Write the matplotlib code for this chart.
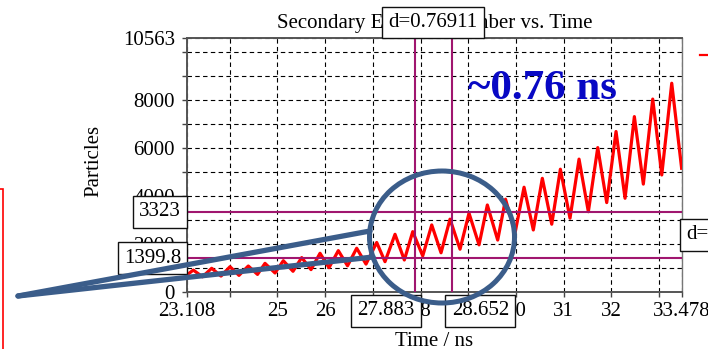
import matplotlib
matplotlib.use("Agg")
import matplotlib.pyplot as plt
import matplotlib.transforms as mtransforms
from matplotlib.lines import Line2D
from matplotlib.patches import Ellipse, Rectangle

plt.rcParams["font.family"] = ["Liberation Serif", "DejaVu Serif"]
plt.rcParams["font.size"] = 15

# secondary electron trace, valleys and peaks of the multipactor oscillation
time_ns = [
    23.108, 23.240, 23.433, 23.625, 23.820, 24.009, 24.197, 24.392, 24.585, 24.742,
    24.952, 25.126, 25.329, 25.511, 25.706, 25.895, 26.083, 26.278, 26.471, 26.663,
    26.858, 27.082, 27.256, 27.466, 27.661, 27.837, 28.046, 28.235, 28.430, 28.618,
    28.828, 29.016, 29.226, 29.400, 29.617, 29.781, 29.980, 30.169, 30.363, 30.552,
    30.749, 30.930, 31.132, 31.321, 31.516, 31.713, 31.901, 32.096, 32.285, 32.480,
    32.668, 32.865, 33.054, 33.263, 33.470,
]
particles = [
    700, 900, 620, 975, 650, 1040, 680, 1070, 720, 1180,
    780, 1290, 850, 1420, 920, 1600, 1000, 1710, 1080, 1810,
    1150, 2050, 1250, 2390, 1320, 2500, 1490, 2780, 1620, 3020,
    1770, 3270, 1950, 3610, 2150, 3850, 2450, 4350, 2570, 4720,
    2810, 5100, 3060, 5520, 3330, 6000, 3710, 6670, 3890, 7290,
    4480, 8020, 4860, 8680, 5140,
]

x_lim = (23.108, 33.478)
y_lim = (0, 10563)
x_ticks = [23.108, 24, 25, 26, 27, 28, 29, 30, 31, 32, 33, 33.478]
x_tick_labels = ["23.108", "", "25", "26", "27", "28", "29", "30", "31", "32", "", "33.478"]
y_ticks = [0, 1000, 2000, 3000, 4000, 5000, 6000, 7000, 8000, 9000, 10000, 10563]
y_tick_labels = ["0", "", "2000", "", "4000", "", "6000", "", "8000", "", "", "10563"]

# cursor positions
cursor_t = [27.88289, 28.652]
cursor_p = [1399.8, 3323]
period_note = "~0.76 ns"

W, H = 708, 349
CURSOR = "#A0166F"
MARK = "#3B5D8A"
BOX = dict(boxstyle="square,pad=0.3", fc="white", ec="#111111", lw=1.0)


def fpx(x, y):
    # pixel position (from top-left) -> figure fraction
    return x / W, 1 - y / H


fig = plt.figure(figsize=(7.08, 3.49), dpi=100)
ax = fig.add_axes([187 / W, 1 - 291.7 / H, 495 / W, 253.7 / H])

ax.plot(time_ns, particles, color="#FF0000", lw=2.3, zorder=3)

for t in cursor_t:
    ax.axvline(t, color=CURSOR, lw=1.5, zorder=4)
for p in cursor_p:
    ax.axhline(p, color=CURSOR, lw=1.5, zorder=4)

ax.set_xlim(*x_lim)
ax.set_ylim(*y_lim)
ax.set_xticks(x_ticks)
ax.set_xticklabels(x_tick_labels)
ax.set_yticks(y_ticks)
ax.set_yticklabels(y_tick_labels)
ax.tick_params(direction="out", length=3.6, width=1, color="#444444")
ax.tick_params(axis="x", pad=4)
ax.tick_params(axis="y", pad=5)
ax.grid(True, color="black", lw=0.8, ls=(0, (4, 3)))
for s in ax.spines.values():
    s.set_color("#555555")
    s.set_linewidth(1.4)
ax.spines["right"].set_color("#777777")
ax.spines["right"].set_linewidth(1.0)

ax.set_title("Secondary Electron Number vs. Time", fontsize=15, pad=7)
ax.set_xlabel("Time / ns")
ax.set_ylabel("Particles")
ax.xaxis.set_label_coords(0.5, -0.158)
ax.yaxis.set_label_coords(-0.168, 0.515)

# cursor readouts
tx = mtransforms.blended_transform_factory(ax.transData, ax.transAxes)
ty = mtransforms.blended_transform_factory(ax.transAxes, ax.transData)
ax.text(cursor_t[0], -0.076, f"{cursor_t[0]:.3f}", transform=tx, ha="right", va="center",
        bbox=BOX, zorder=6, clip_on=False)
ax.text(cursor_t[1], -0.076, f"{cursor_t[1]:.3f}", transform=tx, ha="left", va="center",
        bbox=BOX, zorder=6, clip_on=False)
for p in cursor_p:
    ax.text(-0.012, p, f"{p:g}", transform=ty, ha="right", va="center",
            bbox=BOX, zorder=6, clip_on=False)
ax.text(sum(cursor_t) / 2, 1.062, f"d={cursor_t[1] - cursor_t[0]:.5f}", transform=tx,
        ha="center", va="center", bbox=BOX, zorder=6, clip_on=False)
ax.text(1.008, sum(cursor_p) / 2, f"d={cursor_p[1] - cursor_p[0]:.1f}", transform=ty,
        ha="left", va="center", bbox=BOX, zorder=6, clip_on=False)

ax.text(0.718, 0.80, period_note, transform=ax.transAxes, ha="center", va="center",
        fontsize=31, fontweight="bold", color="#0808C4", zorder=6)

# magnifier over the cursor region
cx, cy = fpx(442, 237)
fig.add_artist(Ellipse((cx, cy), 145 / W, 132 / H, transform=fig.transFigure,
                       fill=False, ec=MARK, lw=3.6, zorder=10))
for end in [(370, 231), (373, 257)]:
    x0, y0 = fpx(18, 296)
    x1, y1 = fpx(*end)
    fig.add_artist(Line2D([x0, x1], [y0, y1], transform=fig.transFigure, color=MARK,
                          lw=3.8, solid_capstyle="round", zorder=10))

# pieces of neighbouring items on the slide
rx, ry = fpx(3, 189)
fig.add_artist(Rectangle((-0.1, -0.1), rx + 0.1, ry + 0.1, transform=fig.transFigure,
                         fill=False, ec="#FF0000", lw=1.2, zorder=10))
lx, ly = fpx(700, 55)
fig.add_artist(Line2D([lx, 1.0], [ly, ly], transform=fig.transFigure, color="#FF0000",
                      lw=1.6, zorder=10))

fig.savefig("out.png", dpi=100)
